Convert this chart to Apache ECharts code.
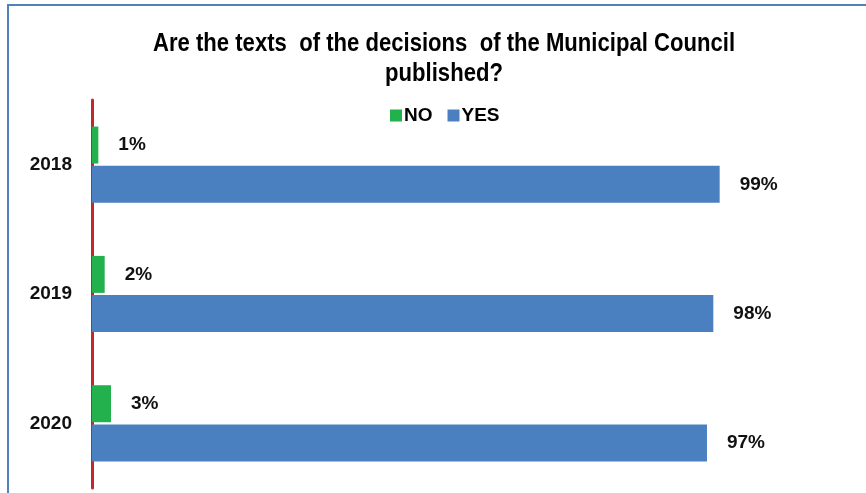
<!DOCTYPE html>
<html>
<head>
<meta charset="utf-8">
<script src="https://cdn.jsdelivr.net/npm/echarts@6/dist/echarts.min.js"></script>
<style>
html,body{margin:0;padding:0;background:#fff;}
#c{width:866px;height:493px;}
</style>
</head>
<body>
<div id="c"></div>
<script>
var categories = ['2018', '2019', '2020'];
var noValues = [1, 2, 3];
var yesValues = [99, 98, 97];
var seriesNames = ['NO', 'YES'];
var titleLines = ['Are the texts  of the decisions  of the Municipal Council', 'published?'];

var FONT = "'Liberation Sans', Arial, sans-serif";
var chart = echarts.init(document.getElementById('c'), null, {renderer: 'canvas'});
var labelStyle = {
  show: true, position: 'right', distance: 20,
  formatter: '{c}%', color: '#111', fontFamily: FONT, fontWeight: 'bold', fontSize: 19
};
chart.setOption({
  animation: false,
  backgroundColor: '#fff',
  legend: {
    data: seriesNames,
    left: 385, top: 101,
    itemWidth: 12, itemHeight: 12, itemGap: 15,
    icon: 'rect',
    textStyle: {fontFamily: FONT, fontWeight: 'bold', fontSize: 19, color: '#000', padding: [0, 0, 0, -3]}
  },
  grid: {left: 92, top: 100, width: 634, height: 388, containLabel: false},
  xAxis: {
    type: 'value', min: 0, max: 100, show: false
  },
  yAxis: {
    type: 'category', data: categories, inverse: true,
    axisLine: {show: true, lineStyle: {color: '#c1272d', width: 3}},
    axisTick: {show: false},
    axisLabel: {margin: 20, fontFamily: FONT, fontWeight: 'bold', fontSize: 19, color: '#111'}
  },
  graphic: [{
    type: 'rect', z: -1,
    shape: {x: 8, y: 5, width: 900, height: 600},
    style: {fill: 'none', stroke: '#4f81bd', lineWidth: 2}
  }, {
    type: 'text', x: 444, y: 44, scaleX: 0.85,
    style: {text: titleLines[0], font: "bold 26px 'Liberation Sans', Arial, sans-serif",
      fill: '#000', textAlign: 'center', textVerticalAlign: 'middle'}
  }, {
    type: 'text', x: 444, y: 74, scaleX: 0.85,
    style: {text: titleLines[1], font: "bold 26px 'Liberation Sans', Arial, sans-serif",
      fill: '#000', textAlign: 'center', textVerticalAlign: 'middle'}
  }],
  series: [{
    name: seriesNames[0], type: 'bar', data: noValues,
    barWidth: 37, barGap: '6%',
    itemStyle: {color: '#22b14c'},
    label: labelStyle
  }, {
    name: seriesNames[1], type: 'bar', data: yesValues,
    barWidth: 37,
    itemStyle: {color: '#4a80c0'},
    label: labelStyle
  }]
});
</script>
</body>
</html>
